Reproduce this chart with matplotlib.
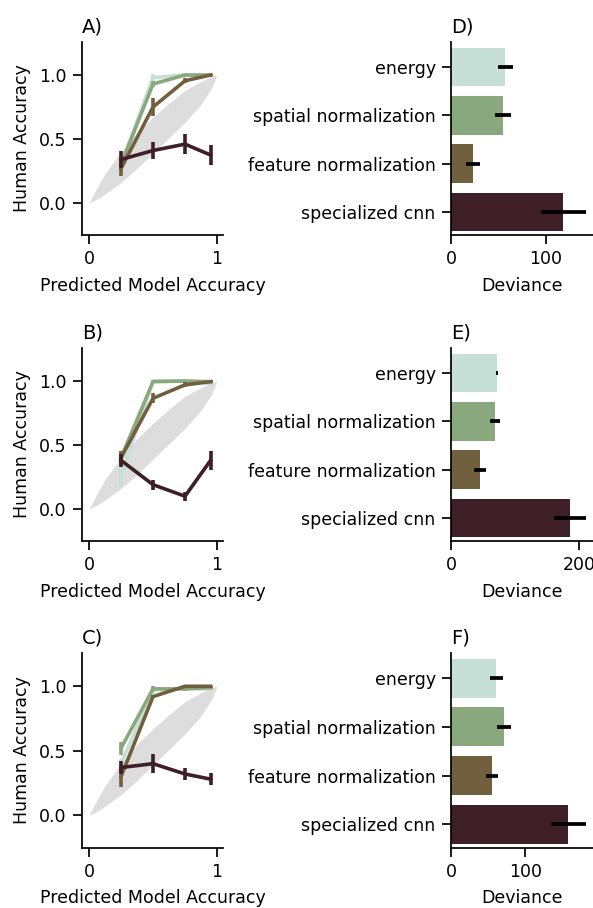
import matplotlib
matplotlib.use("Agg")
import matplotlib.pyplot as plt
import numpy as np

plt.rcParams['font.family'] = ['DejaVu Sans']
plt.rcParams['font.size'] = 12.5

# ---------------- data ----------------
models = ["energy", "spatial normalization", "feature normalization", "specialized cnn"]
colors = ["#c6dfd7", "#8aa87d", "#71603e", "#3e1f27"]

pred_x = [0.25, 0.5, 0.75, 0.95]

# gray reference band (chance region)
band_x = [0.0, 0.0625, 0.125, 0.25, 0.375, 0.5, 0.625, 0.75, 0.875, 0.96, 1.0]
band_lo = [0.0, 0.03, 0.07, 0.16, 0.27, 0.39, 0.51, 0.63, 0.77, 0.90, 1.0]
band_hi = [0.0, 0.12, 0.23, 0.40, 0.55, 0.67, 0.78, 0.88, 0.95, 0.99, 1.0]

# panel A
acc_A = {
    "energy": [0.30, 0.98, 1.00, 1.00],
    "spatial normalization": [0.30, 0.93, 1.00, 1.00],
    "feature normalization": [0.27, 0.75, 0.955, 1.00],
    "specialized cnn": [0.34, 0.41, 0.46, 0.375],
}
err_A = {
    "energy": [0.04, 0.03, 0.01, 0.005],
    "spatial normalization": [0.04, 0.02, 0.01, 0.005],
    "feature normalization": [0.06, 0.07, 0.02, 0.005],
    "specialized cnn": [0.065, 0.07, 0.08, 0.075],
}
# panel B
acc_B = {
    "energy": [0.26, 1.00, 1.00, 0.98],
    "spatial normalization": [0.40, 0.995, 1.00, 0.995],
    "feature normalization": [0.40, 0.865, 0.97, 0.995],
    "specialized cnn": [0.38, 0.19, 0.10, 0.38],
}
err_B = {
    "energy": [0.08, 0.01, 0.01, 0.02],
    "spatial normalization": [0.05, 0.01, 0.005, 0.01],
    "feature normalization": [0.05, 0.04, 0.02, 0.01],
    "specialized cnn": [0.05, 0.04, 0.035, 0.075],
}
# panel C
acc_C = {
    "energy": [0.40, 0.97, 0.98, 0.98],
    "spatial normalization": [0.52, 0.98, 0.98, 0.99],
    "feature normalization": [0.30, 0.92, 1.00, 1.00],
    "specialized cnn": [0.37, 0.40, 0.32, 0.28],
}
err_C = {
    "energy": [0.04, 0.02, 0.01, 0.01],
    "spatial normalization": [0.05, 0.02, 0.02, 0.01],
    "feature normalization": [0.08, 0.01, 0.01, 0.005],
    "specialized cnn": [0.05, 0.075, 0.05, 0.045],
}

# deviance bars
dev_D = [57.4, 55.0, 23.0, 118.8]
dev_err_D = [8.0, 8.0, 7.5, 23.6]
dev_E = [71.9, 68.8, 45.3, 185.9]
dev_err_E = [1.0, 8.0, 10.0, 24.5]
dev_F = [60.8, 71.6, 55.4, 157.7]
dev_err_F = [8.5, 9.5, 8.0, 23.6]

line_titles = ["A)", "B)", "C)"]
bar_titles = ["D)", "E)", "F)"]
line_xticks = [0, 1]
line_yticks = [0.0, 0.5, 1.0]
bar_xticks = [[0, 100], [0, 200], [0, 100]]

# ---------------- figure ----------------
W, H = 593, 908
fig = plt.figure(figsize=(W / 100, H / 100), dpi=100)

rows_px = [(42, 235), (348, 541), (653, 847.5)]
left_px = (82, 223)
right_px = (451, 592.5)

FS = 12.5
TFS = 14


def ax_at(xpx, ypx):
    l = xpx[0] / W
    w = (xpx[1] - xpx[0]) / W
    b = 1 - ypx[1] / H
    h = (ypx[1] - ypx[0]) / H
    return fig.add_axes([l, b, w, h])


def style(ax):
    for s in ["top", "right"]:
        ax.spines[s].set_visible(False)
    for s in ["left", "bottom"]:
        ax.spines[s].set_linewidth(1.25)
    ax.tick_params(length=6.5, width=1.25, labelsize=FS, pad=4.5)


acc_all = [acc_A, acc_B, acc_C]
err_all = [err_A, err_B, err_C]
dev_all = [dev_D, dev_E, dev_F]
dev_err_all = [dev_err_D, dev_err_E, dev_err_F]

for r in range(3):
    # line panel
    ax = ax_at(left_px, rows_px[r])
    style(ax)
    ax.fill_between(band_x, band_lo, band_hi, color="#dddddd", lw=0, zorder=1)
    for i, m in enumerate(models):
        ax.errorbar(pred_x, acc_all[r][m], yerr=err_all[r][m], color=colors[i],
                    lw=2.6, elinewidth=2.6, capsize=0, zorder=2 + i)
    ax.set_xlim(-0.055, 1.047)
    ax.set_ylim(-0.25, 1.258)
    ax.set_xticks(line_xticks)
    ax.set_xticklabels([str(t) for t in line_xticks])
    ax.set_yticks(line_yticks)
    ax.set_yticklabels(["%.1f" % t for t in line_yticks])
    ax.set_xlabel("Predicted Model Accuracy", fontsize=FS, labelpad=6)
    ax.set_ylabel("Human Accuracy", fontsize=FS, labelpad=6)
    ax.set_title(line_titles[r], loc="left", fontsize=TFS, pad=7)

    # bar panel
    bx = ax_at(right_px, rows_px[r])
    style(bx)
    ypos = np.arange(len(models))
    bx.barh(ypos, dev_all[r], height=0.8, color=colors, zorder=2)
    bx.errorbar(dev_all[r], ypos, xerr=dev_err_all[r], fmt="none", ecolor="black",
                elinewidth=2.7, capsize=0, zorder=3)
    bx.set_yticks(ypos)
    bx.set_yticklabels(models)
    bx.set_ylim(3.48, -0.52)
    bx.set_xlim(0, None)
    bx.set_xticks(bar_xticks[r])
    bx.set_xticklabels([str(t) for t in bar_xticks[r]])
    bx.set_xlabel("Deviance", fontsize=FS, labelpad=6)
    bx.set_title(bar_titles[r], loc="left", fontsize=TFS, pad=7)

fig.savefig("out.png", dpi=100)
